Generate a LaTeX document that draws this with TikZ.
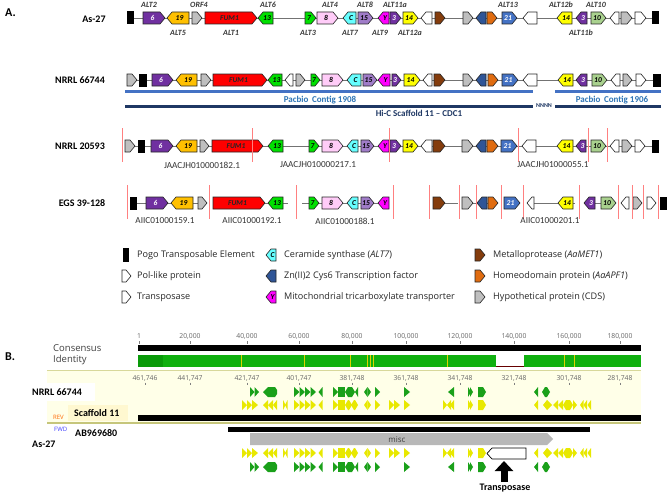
\documentclass[tikz,border=0pt]{standalone}
\usepackage{fontspec}
\setmainfont{Carlito}
\newfontfamily\osans{Open Sans}
\usetikzlibrary{arrows.meta}
\definecolor{purp}{HTML}{7030A0}
\definecolor{gold}{HTML}{FFC000}
\definecolor{hgray}{HTML}{BFBFBF}
\definecolor{fumred}{HTML}{FF0000}
\definecolor{lgreen}{HTML}{00E000}
\definecolor{pinkg}{HTML}{FFCCF8}
\definecolor{cyanc}{HTML}{66FFFF}
\definecolor{lav}{HTML}{A07CC8}
\definecolor{mag}{HTML}{FF00FF}
\definecolor{yel}{HTML}{FFFF00}
\definecolor{brownm}{HTML}{843C0C}
\definecolor{zblue}{HTML}{2F5597}
\definecolor{horange}{HTML}{E06C10}
\definecolor{blue21}{HTML}{4472C4}
\definecolor{lgr10}{HTML}{A9D18E}
\definecolor{cutred}{HTML}{FF8080}
\definecolor{pacblue}{HTML}{4472C4}
\definecolor{pactext}{HTML}{2E75B6}
\definecolor{navy}{HTML}{1F3864}
\definecolor{idgreen}{HTML}{10B010}
\definecolor{idgreend}{HTML}{0A9A0A}
\definecolor{agreen}{HTML}{1AA01A}
\definecolor{ayel}{HTML}{E8E800}
\definecolor{band}{HTML}{FFFFE8}
\definecolor{bandline}{HTML}{D8D89A}
\definecolor{scbox}{HTML}{FFF8D0}
\newcounter{nn}
\newcommand{\gR}[6]{%
  \draw[gb,fill=#4] (#1,#3-6) -- ({max(#1,#2-5)},#3-6) -- (#2,#3) -- ({max(#1,#2-5)},#3+6) -- (#1,#3+6) -- cycle;
  \stepcounter{nn}\node[gl,text=#6] (n\arabic{nn}) at ({(#1+#2)/2-1.5},#3) {#5};}
\newcommand{\gL}[6]{%
  \draw[gb,fill=#4] (#1,#3) -- ({min(#2,#1+5)},#3-6) -- (#2,#3-6) -- (#2,#3+6) -- ({min(#2,#1+5)},#3+6) -- cycle;
  \stepcounter{nn}\node[gl,text=#6] (n\arabic{nn}) at ({(#1+#2)/2+1.5},#3) {#5};}
\newcommand{\pogo}[3]{\fill[black] (#1,#3-6.5) rectangle (#2,#3+6.5);}
\newcommand{\cut}[2]{\draw[cutline] (#1,#2-18) -- (#1,#2+16);}
% annotation glyphs
\newcommand{\tR}[4]{\fill[#4] (#1,#3-5) -- (#2,#3) -- (#1,#3+5) -- cycle;}
\newcommand{\tL}[4]{\fill[#4] (#2,#3-5) -- (#1,#3) -- (#2,#3+5) -- cycle;}
\newcommand{\bx}[4]{\fill[#4] (#1,#3-5) rectangle (#2,#3+5);}
\newcommand{\hx}[4]{\fill[#4] (#1,#3) -- (#1+3,#3-5) -- (#2-3,#3-5) -- (#2,#3) -- (#2-3,#3+5) -- (#1+3,#3+5) -- cycle;}
\newcommand{\pR}[4]{\fill[#4] (#1,#3-5) -- (#2-3,#3-5) -- (#2,#3) -- (#2-3,#3+5) -- (#1,#3+5) -- cycle;}
\newcommand{\pL}[4]{\fill[#4] (#1,#3) -- (#1+5,#3-5) -- (#2-2,#3-5) -- (#2,#3-2) -- (#2,#3+2) -- (#2-2,#3+5) -- (#1+5,#3+5) -- cycle;}
\newcommand{\rowG}[1]{%
  \tR{250}{254.5}{#1}{agreen}\tR{254.5}{259}{#1}{agreen}
  \pL{263}{277}{#1}{agreen}
  \tR{294}{299.5}{#1}{agreen}\tR{299.5}{305}{#1}{agreen}\tR{305}{310.5}{#1}{agreen}\tR{310.5}{316}{#1}{agreen}\tL{318.5}{322.5}{#1}{agreen}
  \tR{333}{338}{#1}{agreen}\bx{338}{345}{#1}{agreen}\hx{345}{355}{#1}{agreen}\tL{355}{358}{#1}{agreen}
  \tL{364}{367.5}{#1}{agreen}\tR{367.5}{371}{#1}{agreen}
  \tR{375}{380}{#1}{agreen}
  \tR{404}{410}{#1}{agreen}
  \tL{448}{454}{#1}{agreen}
  \tR{468}{471}{#1}{agreen}\tR{470}{473}{#1}{agreen}
  \pR{478}{486}{#1}{agreen}
  \tL{534}{538}{#1}{agreen}\hx{542}{550}{#1}{agreen}}
\newcommand{\rowY}[1]{%
  \tR{242}{247}{#1}{ayel}\tR{247}{252}{#1}{ayel}\tR{252}{258}{#1}{ayel}
  \tL{263}{268}{#1}{ayel}\tL{268}{273}{#1}{ayel}\tL{273}{277}{#1}{ayel}
  \tR{283}{285.5}{#1}{ayel}\tL{285}{287.5}{#1}{ayel}
  \tR{294}{299.5}{#1}{ayel}\tR{299.5}{305}{#1}{ayel}\tR{305}{310.5}{#1}{ayel}\tR{310.5}{316}{#1}{ayel}\tL{318.5}{322.5}{#1}{ayel}
  \tR{333}{338}{#1}{ayel}\bx{338}{345}{#1}{ayel}\hx{345}{352}{#1}{ayel}\hx{351}{358}{#1}{ayel}
  \tL{364}{367.5}{#1}{ayel}\tR{367.5}{371}{#1}{ayel}
  \tR{375}{380}{#1}{ayel}
  \tR{389}{394}{#1}{ayel}\tR{394}{400}{#1}{ayel}
  \tR{404}{410}{#1}{ayel}
  \tR{443}{447}{#1}{ayel}\tL{447}{451}{#1}{ayel}\tL{450}{454}{#1}{ayel}
  \tR{468}{471}{#1}{ayel}\tR{470}{473}{#1}{ayel}
  \pR{478}{486}{#1}{ayel}
  \tL{534}{538}{#1}{ayel}
  \tL{543}{547}{#1}{ayel}\tR{547}{552}{#1}{ayel}\tL{553}{558}{#1}{ayel}\tL{558}{563}{#1}{ayel}\hx{563}{573}{#1}{ayel}\tR{573}{577}{#1}{ayel}\tL{580}{583.5}{#1}{ayel}\tL{583.5}{587}{#1}{ayel}\tL{587.5}{591}{#1}{ayel}}
\begin{document}
\begin{tikzpicture}[x=1pt,y=-1pt,
  gb/.style={draw=black!85,line width=0.6pt,line join=miter},
  gl/.style={font=\fontsize{7.5}{8}\selectfont\bfseries\itshape,inner sep=0pt},
  alt/.style={font=\fontsize{8}{9}\selectfont\bfseries\itshape,text=black!78,inner sep=0pt},
  bbone/.style={draw=black!55,line width=0.6pt},
  cutline/.style={draw=cutred,line width=0.7pt},
  acc/.style={font=\fontsize{9.2}{10}\selectfont,text=black!80,inner sep=0pt},
  strain/.style={font=\fontsize{10}{12}\selectfont\bfseries,inner sep=0pt},
  leg/.style={font=\osans\fontsize{9.1}{10}\selectfont,text=black!85,anchor=west,inner sep=0pt},
  ruler/.style={font=\osans\fontsize{6.8}{8}\selectfont,text=black!60,inner sep=0pt},
  tick/.style={draw=black!50,line width=0.5pt}]
\useasboundingbox (0,0) rectangle (669,495);
\fill[white] (0,0) rectangle (669,495);
% ===== Part A =====
\node[font=\fontsize{12}{14}\selectfont\bfseries,inner sep=0pt,anchor=west] (labA) at (5,13) {A.};
% Row 1 : As-27
\node[strain] (s1) at (94,19) {As-27};
\draw[bbone] (127,18) -- (659,18);
\pogo{127}{134}{18}
\gR{143}{165}{18}{purp}{6}{white}
\gL{167}{189}{18}{gold}{19}{black}
\gR{192}{202}{18}{hgray}{}{black}
\gR{205}{257}{18}{fumred}{FUM1}{black!85}
\gL{258}{273}{18}{lgreen}{13}{black}
\gR{305}{316}{18}{lgreen}{7}{black}
\gR{317}{338}{18}{pinkg}{8}{black}
\gL{343}{356}{18}{cyanc}{C}{black}
\gR{358}{373}{18}{lav}{15}{black}
\gL{378}{389}{18}{mag}{Y}{black}
\gR{390}{401}{18}{purp}{3}{white}
\gR{403}{418}{18}{yel}{14}{black}
\gL{421}{432}{18}{white}{}{black}
\gR{435}{445}{18}{brownm}{}{black}
\gR{463}{473}{18}{hgray}{}{black}
\gL{476}{486}{18}{zblue}{}{black}
\gR{487}{497}{18}{horange}{}{black}
\gR{502}{517}{18}{blue21}{21}{white}
\gL{523}{537}{18}{white}{}{black}
\gL{557}{572}{18}{yel}{14}{black}
\gL{576}{587}{18}{purp}{3}{white}
\gR{591}{606}{18}{lgr10}{10}{black}
\gL{610}{619}{18}{white}{}{black}
\gR{621}{632}{18}{hgray}{}{black}
\gR{635}{646}{18}{white}{}{black}
\pogo{652}{659}{18}
\node[alt] (a2) at (149,5) {ALT2};
\node[alt] (orf4) at (199,5) {ORF4};
\node[alt] (a6) at (268,5) {ALT6};
\node[alt] (a4) at (330,5) {ALT4};
\node[alt] (a8) at (365,5) {ALT8};
\node[alt] (a11a) at (395,5) {ALT11a};
\node[alt] (a13) at (508,5) {ALT13};
\node[alt] (a12b) at (561,5) {ALT12b};
\node[alt] (a10) at (596,5) {ALT10};
\node[alt] (a5) at (178,33) {ALT5};
\node[alt] (a1) at (231,33) {ALT1};
\node[alt] (a3) at (308,33) {ALT3};
\node[alt] (a7) at (350,33) {ALT7};
\node[alt] (a9) at (380,33) {ALT9};
\node[alt] (a12a) at (410,33) {ALT12a};
\node[alt] (a11b) at (581,33) {ALT11b};
% Row 2 : NRRL 66744
\node[strain] (s2) at (80,80) {NRRL 66744};
\draw[bbone] (127,80) -- (661,80);
\gR{127}{137}{80}{hgray}{}{black}
\pogo{139}{147}{80}
\gR{152}{173}{80}{purp}{6}{white}
\gL{176}{197}{80}{gold}{19}{black}
\gR{201}{211}{80}{hgray}{}{black}
\gR{213}{267}{80}{fumred}{FUM1}{black!85}
\gL{268}{282}{80}{lgreen}{13}{black}
\gL{285}{293}{80}{white}{}{black}
\gR{296}{305}{80}{hgray}{}{black}
\gR{311}{320}{80}{lgreen}{7}{black}
\gR{322}{343}{80}{pinkg}{8}{black}
\gL{347}{361}{80}{cyanc}{C}{black}
\gR{363}{377}{80}{lav}{15}{black}
\gL{378}{390}{80}{mag}{Y}{black}
\gR{392}{401}{80}{purp}{3}{white}
\gR{404}{420}{80}{yel}{14}{black}
\gL{423}{432}{80}{white}{}{black}
\gR{434}{445}{80}{brownm}{}{black}
\gR{463}{473}{80}{hgray}{}{black}
\gL{476}{486}{80}{zblue}{}{black}
\gR{488}{498}{80}{horange}{}{black}
\gR{502}{518}{80}{blue21}{21}{white}
\gL{523}{537}{80}{white}{}{black}
\gL{558}{573}{80}{yel}{14}{black}
\gL{576}{587}{80}{purp}{3}{white}
\gR{592}{607}{80}{lgr10}{10}{black}
\gL{611}{620}{80}{white}{}{black}
\gR{623}{632}{80}{hgray}{}{black}
\gR{636}{646}{80}{white}{}{black}
\pogo{653}{661}{80}
\draw[pacblue,line width=3pt] (125,91) -- (533,91);
\draw[pacblue,line width=3pt] (555,91) -- (661,91);
\node[font=\fontsize{9}{10}\selectfont\bfseries,text=pactext,inner sep=0pt] (pc1) at (320,100) {Pacbio\, Contig 1908};
\node[font=\fontsize{9}{10}\selectfont\bfseries,text=pactext,inner sep=0pt] (pc2) at (612,100) {Pacbio\, Contig 1906};
\draw[navy,line width=3pt] (125,106) -- (533,106);
\draw[navy,line width=3pt] (555,106) -- (661,106);
\node[font=\fontsize{6}{7}\selectfont\bfseries,text=navy,inner sep=0pt] (nnnn) at (544,106) {NNNN};
\node[font=\fontsize{9}{10}\selectfont\bfseries,text=navy,inner sep=0pt] (hic) at (419,113) {Hi-C Scaffold 11 -- CDC1};
% Row 3 : NRRL 20593
\node[strain] (s3) at (80,146) {NRRL 20593};
\draw[bbone] (125,146) -- (659,146);
\gR{125}{135}{146}{hgray}{}{black}
\pogo{138}{145}{146}
\gR{151}{173}{146}{purp}{6}{white}
\gL{176}{197}{146}{gold}{19}{black}
\gR{200}{209}{146}{hgray}{}{black}
\gR{212}{263}{146}{fumred}{FUM1}{black!85}
\gL{268}{283}{146}{lgreen}{13}{black}
\gR{309}{319}{146}{lgreen}{7}{black}
\gR{322}{343}{146}{pinkg}{8}{black}
\gL{347}{358}{146}{cyanc}{C}{black}
\gR{361}{374}{146}{lav}{15}{black}
\gL{378}{389}{146}{mag}{Y}{black}
\gR{390}{401}{146}{purp}{3}{white}
\gR{403}{418}{146}{yel}{14}{black}
\gL{421}{432}{146}{white}{}{black}
\gR{433}{445}{146}{brownm}{}{black}
\gR{462}{473}{146}{hgray}{}{black}
\gL{476}{486}{146}{zblue}{}{black}
\gR{487}{498}{146}{horange}{}{black}
\gR{501}{517}{146}{blue21}{21}{white}
\gL{522}{536}{146}{white}{}{black}
\gL{557}{573}{146}{yel}{14}{black}
\gL{576}{586}{146}{purp}{3}{white}
\gR{591}{606}{146}{lgr10}{10}{black}
\gL{610}{619}{146}{white}{}{black}
\gR{622}{632}{146}{hgray}{}{black}
\gR{635}{645}{146}{white}{}{black}
\pogo{652}{659}{146}
\cut{122}{146}\cut{252}{146}\cut{389}{146}\cut{518}{146}\cut{588}{146}\cut{607}{146}
\node[acc] (c1) at (202,165) {JAACJH010000182.1};
\node[acc] (c2) at (318,165) {JAACJH010000217.1};
\node[acc] (c3) at (553,165) {JAACJH01000055.1};
% Row 4 : EGS 39-128
\node[strain] (s4) at (82,203) {EGS 39-128};
\draw[bbone] (130,203) -- (207,203);
\draw[bbone] (213,203) -- (288,203);
\draw[bbone] (302,203) -- (389,203);
\draw[bbone] (433,203) -- (458,203);
\draw[bbone] (462,203) -- (498,203);
\draw[bbone] (527,203) -- (575,203);
\draw[bbone] (595,203) -- (601,203);
\pogo{130}{137}{203}
\gR{146}{168}{203}{purp}{6}{white}
\gL{171}{193}{203}{gold}{19}{black}
\gR{198}{207}{203}{hgray}{}{black}
\gR{213}{265}{203}{fumred}{FUM1}{black!85}
\gL{268}{283}{203}{lgreen}{13}{black}
\gR{309}{319}{203}{lgreen}{7}{black}
\gR{322}{343}{203}{pinkg}{8}{black}
\gL{347}{358}{203}{cyanc}{C}{black}
\gR{361}{374}{203}{lav}{15}{black}
\gL{378}{389}{203}{mag}{Y}{black}
\gR{433}{445}{203}{brownm}{}{black}
\gR{462}{473}{203}{hgray}{}{black}
\gL{477}{487}{203}{zblue}{}{black}
\gR{488}{498}{203}{horange}{}{black}
\gR{504}{520}{203}{blue21}{21}{white}
\gL{527}{534}{203}{white}{}{black}
\gL{558}{573}{203}{yel}{14}{black}
\gL{584}{595}{203}{purp}{3}{white}
\gR{601}{616}{203}{lgr10}{10}{black}
\gL{621}{629}{203}{white}{}{black}
\gR{633}{642}{203}{hgray}{}{black}
\gR{647}{656}{203}{white}{}{black}
\pogo{660}{667}{203}
\cut{127}{203}\cut{209}{203}\cut{296}{203}\cut{393}{203}\cut{429}{203}\cut{459}{203}\cut{476}{203}
\cut{501}{203}\cut{523}{203}\cut{579}{203}\cut{618}{203}\cut{632}{203}\cut{643}{203}\cut{658}{203}
\node[acc] (c4) at (165,221) {AIIC01000159.1};
\node[acc] (c5) at (252,221) {AIIC01000192.1};
\node[acc] (c6) at (345,221) {AIIC01000188.1};
\node[acc] (c7) at (550,221) {AIIC01000201.1};
% Legend
\fill[black] (123,248) rectangle (129,262);
\gR{122}{131}{276}{white}{}{black}
\gR{122}{131}{297}{white}{}{black}
\gL{266}{276}{255}{cyanc}{C}{black}
\gL{266}{276}{276}{zblue}{}{black}
\gL{266}{276}{297}{mag}{Y}{black}
\gR{475}{485}{255}{brownm}{}{black}
\gR{475}{485}{276}{horange}{}{black}
\gR{475}{485}{297}{hgray}{}{black}
\node[leg] (l1) at (137,255) {Pogo Transposable Element};
\node[leg] (l2) at (137,276) {Pol-like protein};
\node[leg] (l3) at (137,297) {Transposase};
\node[leg] (l4) at (284,255) {Ceramide synthase (\textit{ALT7})};
\node[leg] (l5) at (284,276) {Zn(II)2 Cys6 Transcription factor};
\node[leg] (l6) at (284,297) {Mitochondrial tricarboxylate transporter};
\node[leg] (l7) at (493,255) {Metalloprotease (\textit{AaMET1})};
\node[leg] (l8) at (493,276) {Homeodomain protein (\textit{AaAPF1})};
\node[leg] (l9) at (493,297) {Hypothetical protein (CDS)};
% ===== Part B =====
\node[font=\fontsize{12}{14}\selectfont\bfseries,inner sep=0pt,anchor=west] (labB) at (5,357) {B.};
\node[font=\osans\fontsize{9.5}{11}\selectfont,text=black!75,anchor=west,inner sep=0pt] (cons) at (53,348) {Consensus};
\node[font=\osans\fontsize{9.5}{11}\selectfont,text=black!75,anchor=west,inner sep=0pt] (iden) at (53,360) {Identity};
\foreach \p/\t [count=\i] in {139/1,190/{20,000},247/{40,000},299/{60,000},352/{80,000},406/{100,000},460/{120,000},514/{140,000},569/{160,000},620/{180,000}}{
  \node[ruler] (r\i) at (\p,336) {\t};
  \draw[tick] (\p,341) -- (\p,343.5);
}
\fill[black] (138,345) rectangle (641,350.5);
\fill[idgreen] (138,355) rectangle (641,367);
\fill[idgreend] (138,355) rectangle (163,367);
\foreach \q in {241,304,350,367,370,373,447,564,574}{\draw[draw=yellow!70!olive,line width=0.5pt] (\q,355) -- (\q,367);}
\fill[white] (496,355) rectangle (524,367);
\draw[draw=red!40!black,line width=0.6pt] (496,366.5) -- (524,366.5);
% band
\fill[band] (47,370) rectangle (641,423);
\draw[bandline,line width=1pt] (47,370) -- (641,370);
\draw[bandline!80!olive,line width=1.5pt] (47,423) -- (641,423);
\fill[white] (28,383) rectangle (95,401);
\node[strain,anchor=west] (bn1) at (32,392) {NRRL 66744};
\fill[scbox] (68,405) rectangle (128,421);
\node[strain,anchor=west] (bsc) at (74,413) {Scaffold 11};
\node[font=\osans\fontsize{6}{7}\selectfont,text=orange!80!red,anchor=west,inner sep=0pt] (rev) at (53,417) {REV};
\foreach \p/\t [count=\i] in {145/{461,746},190/{441,747},247/{421,747},299/{401,747},352/{381,748},406/{361,748},460/{341,748},514/{321,748},569/{301,748},620/{281,748}}{
  \node[ruler] (q\i) at (\p,378) {\t};
  \draw[tick] (\p,382.5) -- (\p,385);
}
\rowG{392}
\rowY{405}
\fill[black] (138,415) rectangle (641,421);
\node[font=\osans\fontsize{6}{7}\selectfont,text=blue!75,anchor=west,inner sep=0pt] (fwd) at (54,429) {FWD};
\node[strain,anchor=west] (bab) at (75,433) {AB969680};
\node[strain,anchor=west] (bas) at (32,444) {As-27};
\fill[black] (228,427) rectangle (590,432);
\fill[black!28] (250,433) -- (547,433) -- (553,439) -- (547,445) -- (250,445) -- cycle;
\node[font=\osans\fontsize{8}{9}\selectfont,text=black!75,inner sep=0pt] (misc) at (397,439.5) {misc};
\rowY{453}
\rowG{467}
\draw[black,fill=white,line width=0.7pt] (487,453.5) -- (492,448) -- (526,448) -- (526,459) -- (492,459) -- cycle;
\coordinate (tbox) at (504,461);
\node[font=\fontsize{10}{12}\selectfont\bfseries,inner sep=0pt] (trl) at (505,488) {Transposase};
\draw[line width=7pt,-{Triangle[width=18pt,length=10pt]}] (504,482) -- (tbox);
\end{tikzpicture}
\end{document}
